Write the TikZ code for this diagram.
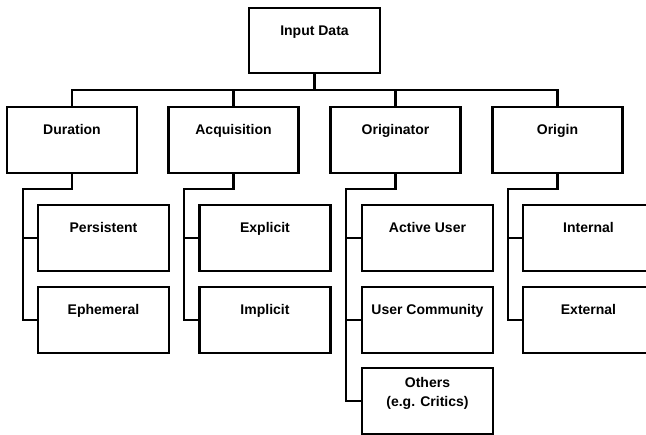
\documentclass[tikz,border=0pt]{standalone}
\usepackage{fontspec}
\setmainfont{Liberation Sans}
\begin{document}
\begin{tikzpicture}[x=1pt,y=-1pt,
  line width=2.2pt, line join=miter,
  lbl/.style={inner sep=0pt, align=center, font=\bfseries\fontsize{14}{19}\selectfont},
  box/.style={draw, line width=2.2pt, minimum width=131pt, minimum height=66pt, inner sep=0pt,
    label={[lbl, anchor=base, yshift=-28.5pt]north:#1}},
  box2/.style={draw, line width=2.2pt, minimum width=131pt, minimum height=66pt, inner sep=0pt,
    label={[lbl, anchor=north, yshift=-9pt]north:#1}},
  conn/.style={draw, line width=2.2pt}
]
\clip (0,0) rectangle (646,435);
\useasboundingbox (0,0) rectangle (646,435);
% top
\node[box={Input Data}, minimum height=65pt] (in) at (314.5,40.5) {};
% level 1
\node[box={Duration}, minimum width=130pt] (dur) at (72,140) {};
\node[box={Acquisition}, minimum width=130pt] (acq) at (233.5,140) {};
\node[box={Originator}, minimum width=130pt] (ori) at (395.5,140) {};
\node[box={Origin}, minimum width=130pt] (org) at (557.5,140) {};
% level 2
\node[box={Persistent}] (pers) at (103.5,238) {};
\node[box={Ephemeral}] (eph) at (103.5,320) {};
\node[box={Explicit}] (expl) at (265,238) {};
\node[box={Implicit}] (impl) at (265,320) {};
\node[box={Active User}] (act) at (427.5,238) {};
\node[box={User Community}] (com) at (427.5,320) {};
\node[box2={Others\\(e.g. Critics)}] (oth) at (427.5,401) {};
\node[box={Internal}] (int) at (588.5,238) {};
\node[box={External}] (ext) at (588.5,320) {};
% bus
\coordinate (bus) at (314.5,90);
\draw[conn] (in.south) -- (bus);
\draw[conn] (bus) -| (dur.north);
\draw[conn] (bus) -| (acq.north);
\draw[conn] (bus) -| (ori.north);
\draw[conn] (bus) -| (org.north);
% subtrees
\coordinate (c1) at (23,189);
\coordinate (c2) at (184,189);
\coordinate (c3) at (346,189);
\coordinate (c4) at (508,189);
\draw[conn] (dur.south) |- (c1) |- (eph.west);
\draw[conn] (c1 |- pers.west) -- (pers.west);
\draw[conn] (acq.south) |- (c2) |- (impl.west);
\draw[conn] (c2 |- expl.west) -- (expl.west);
\draw[conn] (ori.south) |- (c3) |- (oth.west);
\draw[conn] (c3 |- act.west) -- (act.west);
\draw[conn] (c3 |- com.west) -- (com.west);
\draw[conn] (org.south) |- (c4) |- (ext.west);
\draw[conn] (c4 |- int.west) -- (int.west);
\end{tikzpicture}
\end{document}
